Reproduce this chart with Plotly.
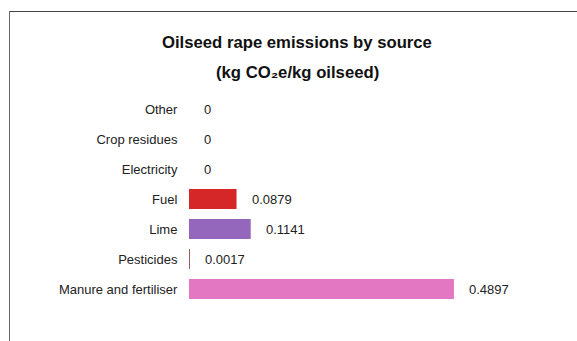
import plotly.graph_objects as go

categories = ["Other", "Crop residues", "Electricity", "Fuel", "Lime", "Pesticides", "Manure and fertiliser"]
values = [0, 0, 0, 0.0879, 0.1141, 0.0017, 0.4897]
labels = ["0", "0", "0", "0.0879", "0.1141", "0.0017", "0.4897"]
colors = ["#1f77b4", "#ff7f0e", "#2ca02c", "#d62728", "#9467bd", "#8c564b", "#e377c2"]
title_line1 = "Oilseed rape emissions by source"
title_line2 = "(kg CO₂e/kg oilseed)"

W, H = 577, 341
ml, mr, mt, mb = 189, 20, 94, 37
pw = W - ml - mr
ph = H - mt - mb
xmax = pw / 541.0

fig = go.Figure()
fig.add_trace(go.Bar(
    y=categories, x=values, orientation="h",
    marker=dict(color=colors, line=dict(width=0)),
    width=0.67, hoverinfo="skip",
))

for c, v, t in zip(categories, values, labels):
    fig.add_annotation(x=v, y=c, text=t, xanchor="left", yanchor="middle",
                       xshift=13, showarrow=False,
                       font=dict(family="Liberation Sans, Arial", size=13, color="#222"))

def px_to_paper_x(px):
    return (px - ml) / pw

def px_to_paper_y(py):
    return (H - mb - py) / ph

fig.add_annotation(x=px_to_paper_x(297), y=px_to_paper_y(42), xref="paper", yref="paper",
                   text="<b>" + title_line1 + "</b>", showarrow=False,
                   xanchor="center", yanchor="middle",
                   font=dict(family="Liberation Sans, Arial", size=16.7, color="#111"))
fig.add_annotation(x=px_to_paper_x(297), y=px_to_paper_y(73), xref="paper", yref="paper",
                   text="<b>" + title_line2 + "</b>", showarrow=False,
                   xanchor="center", yanchor="middle",
                   font=dict(family="Liberation Sans, Arial", size=16.7, color="#111"))

# frame lines (top and left)
fig.add_shape(type="line", xref="paper", yref="paper",
              x0=px_to_paper_x(9), x1=px_to_paper_x(W + 5),
              y0=px_to_paper_y(11.5), y1=px_to_paper_y(11.5),
              line=dict(color="#444", width=1.2), layer="above")
fig.add_shape(type="line", xref="paper", yref="paper",
              x0=px_to_paper_x(9.5), x1=px_to_paper_x(9.5),
              y0=px_to_paper_y(11), y1=px_to_paper_y(H + 5),
              line=dict(color="#666", width=1), layer="above")

fig.update_layout(
    width=W, height=H,
    margin=dict(l=ml, r=mr, t=mt, b=mb, pad=0),
    paper_bgcolor="white", plot_bgcolor="white",
    showlegend=False,
    xaxis=dict(range=[0, xmax], visible=False, fixedrange=True),
    yaxis=dict(autorange="reversed", showgrid=False, zeroline=False, showline=False,
               fixedrange=True,
               ticks="outside", ticklen=8, tickcolor="rgba(0,0,0,0)",
               tickfont=dict(family="Liberation Sans, Arial", size=13, color="#222")),
    font=dict(family="Liberation Sans, Arial"),
)

fig.write_html("out.html", config={"displayModeBar": False, "staticPlot": True},
               post_script="document.body.style.margin='0';document.body.style.overflow='hidden';")
